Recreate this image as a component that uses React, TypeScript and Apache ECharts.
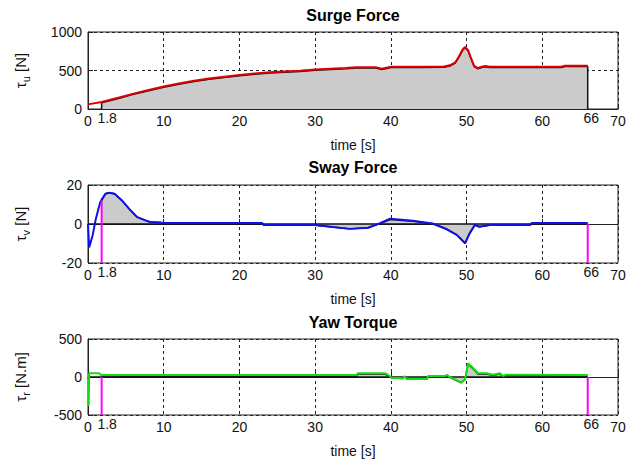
import React, { useEffect, useRef } from "react";
import * as echarts from "echarts";

// ---- Data ----
const xTickLabels = [0, 1.8, 10, 20, 30, 40, 50, 60, 66, 70];
const startT = 1.8;
const endT = 66;

// Surge force
const surgeRefT = [0, 1.8, 4, 6, 8, 10, 12, 14, 16, 18, 20, 22, 24, 26, 28, 30, 32, 34, 35.5, 38, 38.8, 39.6, 40, 44, 47, 47.8, 48.5, 49, 49.5, 49.8, 50.2, 50.5, 51, 51.5, 52, 52.5, 53, 62.5, 63, 66];
const surgeRefV = [60, 90, 145, 200, 248, 292, 332, 366, 396, 420, 442, 460, 476, 488, 498, 512, 522, 532, 542, 542, 522, 540, 548, 550, 552, 568, 605, 685, 775, 805, 765, 685, 560, 532, 548, 558, 548, 548, 562, 562];
const surgeActT = [1.8, 4, 6, 8, 10, 12, 14, 16, 18, 20, 22, 24, 26, 28, 30, 32, 34, 35.5, 38, 38.8, 39.6, 40, 44, 47, 47.8, 48.5, 49, 49.5, 49.8, 50.2, 50.5, 51, 51.5, 52, 52.5, 53, 62.5, 63, 66];
const surgeActV = [80, 135, 190, 238, 282, 322, 356, 386, 410, 432, 450, 466, 478, 488, 502, 512, 522, 532, 532, 512, 530, 538, 540, 542, 558, 595, 675, 765, 795, 755, 675, 550, 522, 538, 548, 538, 538, 552, 552];

// Sway force
const swayRefT = [0, 0.15, 0.6, 1.0, 1.6, 1.8, 2.3, 2.8, 3.5, 4.5, 5.5, 6.5, 7.5, 8.2, 9.5, 10, 23, 23.2, 30, 32.6, 34.6, 37, 38.5, 39.9, 42.9, 45.5, 47.4, 48.7, 49.8, 50.4, 51.1, 51.7, 53, 54, 58.4, 58.6, 66];
const swayRefV = [0, -12, -6, 2, 11, 12.5, 15.5, 16, 15.5, 12, 7.5, 3.5, 2, 1, 0.8, 0.5, 0.5, -0.5, -0.5, -1.7, -2.5, -1.9, 0.3, 2.7, 1.7, 0.3, -2.7, -5.6, -9.9, -4.8, -0.5, -1.4, -0.5, -0.5, -0.5, 0.5, 0.5];
const swayActT = [1.8, 2.3, 2.8, 3.5, 4.5, 5.5, 6.5, 7.5, 8.2, 9.5, 10, 23, 23.2, 30, 32.6, 34.6, 37, 38.5, 39.9, 42.9, 45.5, 47.4, 48.7, 49.8, 50.4, 51.1, 51.7, 53, 54, 58.4, 58.6, 66];
const swayActV = [12, 15.5, 16, 15.5, 12, 7.5, 3.5, 2, 1, 0.8, 0.5, 0.3, -0.7, -0.7, -1.7, -2.5, -1.9, 0.1, 2.3, 1.4, 0.1, -2.7, -5.6, -9.9, -4.8, -0.5, -1.4, -0.7, -0.7, -0.7, 0.3, 0.3];

// Yaw torque
const yawRefT = [0, 0.1, 0.15, 1.5, 1.7, 35.5, 35.6, 39.2, 39.6, 40.1, 41.6, 41.8, 42.1, 44.8, 44.9, 47.2, 47.4, 47.7, 48.4, 49.3, 49.8, 50.2, 50.9, 51.5, 52.6, 53.5, 54.4, 54.8, 55.2, 66];
const yawRefV = [-370, -370, 50, 50, 25, 25, 49, 49, 30, -9, -17, 13, -26, -26, 13, 13, 30, 5, -30, -70, -30, 180, 115, 49, 49, 30, 49, 13, 30, 26];
const yawActT = [1.8, 4.2, 4.3, 35.5, 35.6, 39.2, 39.6, 40.1, 41.6, 41.8, 42.1, 44.8, 44.9, 47.2, 47.4, 47.7, 48.4, 49.3, 49.8, 50.2, 50.9, 51.5, 52.6, 53.5, 54.4, 54.8, 55.2, 66];
const yawActV = [15, 15, 8, 8, 40, 40, 20, -12, -20, 8, -28, -28, 8, 8, 20, 0, -35, -75, -35, 170, 105, 40, 40, 22, 40, 5, 20, 12];

// Axis ranges and ticks
const surgeY = [0, 1000, 500];
const swayY = [-20, 20, 20];
const yawY = [-500, 500, 500];

const FONT = "Liberation Sans, Arial, sans-serif";
const LEFT = 88;
const WIDTH = 530;
const grids = [
  { top: 32, height: 77 },
  { top: 185, height: 78 },
  { top: 339, height: 76 },
];

function zip(t: number[], v: number[]) {
  return t.map((x, i) => [x, v[i]]);
}

export default function App() {
  const ref = useRef<HTMLDivElement>(null);
  useEffect(() => {
    if (!ref.current) return;
    const chart = echarts.init(ref.current, undefined, { renderer: "svg" });

    const xAxisBase = (gi: number) => ({
      type: "value",
      gridIndex: gi,
      min: 0,
      max: 70,
      interval: 10,
      name: "time [s]",
      nameLocation: "middle",
      nameGap: 29,
      nameTextStyle: { fontFamily: FONT, fontSize: 14, color: "#111" },
      axisLine: { show: true, lineStyle: { color: "#222", width: 1 } },
      axisTick: { show: true, inside: true, length: 5, lineStyle: { color: "#222" } },
      axisLabel: {
        customValues: xTickLabels,
        hideOverlap: false,
        margin: 2,
        fontFamily: FONT,
        fontSize: 14,
        color: "#111",
        formatter: (v: number) =>
          v === startT ? `{h|${v}}` : v === endT ? `{k|${v}}` : `{n|${v}}`,
        rich: {
          h: { fontFamily: FONT, fontSize: 14, color: "#111", padding: [0, 0, 0, 11] },
          k: { fontFamily: FONT, fontSize: 14, color: "#111", padding: [0, 0, 0, 7] },
          n: { fontFamily: FONT, fontSize: 14, color: "#111", padding: [3, 0, 0, 0] },
        },
      },
      splitLine: { show: true, lineStyle: { color: "#222", type: [3, 3], width: 1 } },
    });

    const yAxisBase = (gi: number, r: number[], sub: string, unit: string) => ({
      type: "value",
      gridIndex: gi,
      min: r[0],
      max: r[1],
      interval: r[2],
      name: `{a|τ}{b|${sub}}{a| [${unit}]}`,
      nameLocation: "middle",
      nameGap: 57,
      nameRotate: 90,
      nameTextStyle: {
        rich: {
          a: { fontFamily: FONT, fontSize: 15, color: "#111", lineHeight: 22, verticalAlign: "middle" },
          b: { fontFamily: FONT, fontSize: 11, color: "#111", lineHeight: 22, verticalAlign: "bottom" },
        },
      },
      axisLine: { show: true, lineStyle: { color: "#222", width: 1 } },
      axisTick: { show: true, inside: true, length: 5, lineStyle: { color: "#222" } },
      axisLabel: {
        margin: 6,
        fontFamily: FONT,
        fontSize: 14,
        color: "#111",
        formatter: (v: number) => String(v),
      },
      splitLine: { show: true, lineStyle: { color: "#222", type: [3, 3], width: 1 } },
    });

    const noSym = { type: "line", symbol: "none", silent: true };

    const surgeArea = [[surgeActT[0], 0], ...zip(surgeActT, surgeActV), [surgeActT[surgeActT.length - 1], 0]];

    const titleStyle = (text: string) => ({
      text,
      align: "center",
      verticalAlign: "middle",
      font: `bold 16px ${FONT}`,
      fill: "#000",
    });

    const option: any = {
      animation: false,
      backgroundColor: "#fff",
      graphic: [
        { type: "text", x: LEFT + WIDTH / 2, y: 15, style: titleStyle("Surge Force") },
        { type: "text", x: LEFT + WIDTH / 2, y: 167, style: titleStyle("Sway Force") },
        { type: "text", x: LEFT + WIDTH / 2, y: 322, style: titleStyle("Yaw Torque") },
      ],
      grid: grids.map((g) => ({
        left: LEFT,
        width: WIDTH,
        top: g.top,
        height: g.height,
        show: true,
        borderColor: "#222",
        borderWidth: 1,
        backgroundColor: "#fff",
      })),
      xAxis: [xAxisBase(0), xAxisBase(1), xAxisBase(2)],
      yAxis: [
        yAxisBase(0, surgeY, "u", "N"),
        yAxisBase(1, swayY, "v", "N"),
        yAxisBase(2, yawY, "r", "N.m"),
      ],
      series: [
        // Surge
        {
          ...noSym, xAxisIndex: 0, yAxisIndex: 0,
          data: surgeArea,
          lineStyle: { color: "#111", width: 1.5 },
          areaStyle: { color: "#cbcbcb", opacity: 1 },
        },
        {
          ...noSym, xAxisIndex: 0, yAxisIndex: 0,
          data: zip(surgeRefT, surgeRefV),
          lineStyle: { color: "#e00000", width: 2 },
        },
        // Sway
        {
          ...noSym, xAxisIndex: 1, yAxisIndex: 1,
          data: zip(swayActT, swayActV),
          lineStyle: { color: "#111", width: 1.5 },
          areaStyle: { color: "#cbcbcb", opacity: 1 },
        },
        {
          ...noSym, xAxisIndex: 1, yAxisIndex: 1,
          data: [[0, 0], [endT, 0]],
          lineStyle: { color: "#111", width: 1.5 },
        },
        {
          ...noSym, xAxisIndex: 1, yAxisIndex: 1,
          data: zip(swayRefT, swayRefV),
          lineStyle: { color: "#1010e8", width: 2 },
        },
        {
          ...noSym, xAxisIndex: 1, yAxisIndex: 1,
          data: [[startT, swayY[0]], [startT, swayActV[0]]],
          lineStyle: { color: "#ff00ff", width: 2 },
        },
        {
          ...noSym, xAxisIndex: 1, yAxisIndex: 1,
          data: [[endT, swayY[0]], [endT, swayActV[swayActV.length - 1]]],
          lineStyle: { color: "#ff00ff", width: 2 },
        },
        // Yaw
        {
          ...noSym, xAxisIndex: 2, yAxisIndex: 2,
          data: zip(yawActT, yawActV),
          lineStyle: { color: "#111", width: 1.5 },
          areaStyle: { color: "#cbcbcb", opacity: 1 },
        },
        {
          ...noSym, xAxisIndex: 2, yAxisIndex: 2,
          data: [[0, 0], [endT, 0]],
          lineStyle: { color: "#111", width: 1.5 },
        },
        {
          ...noSym, xAxisIndex: 2, yAxisIndex: 2,
          data: zip(yawRefT, yawRefV),
          lineStyle: { color: "#10e010", width: 2 },
        },
        {
          ...noSym, xAxisIndex: 2, yAxisIndex: 2,
          data: [[startT, yawY[0]], [startT, 0]],
          lineStyle: { color: "#ff00ff", width: 2 },
        },
        {
          ...noSym, xAxisIndex: 2, yAxisIndex: 2,
          data: [[endT, yawY[0]], [endT, 0]],
          lineStyle: { color: "#ff00ff", width: 2 },
        },
      ],
    };
    chart.setOption(option);
    return () => chart.dispose();
  }, []);
  return (
    <div
      ref={ref}
      style={{ position: "fixed", left: 0, top: 0, width: 643, height: 464 }}
    />
  );
}
